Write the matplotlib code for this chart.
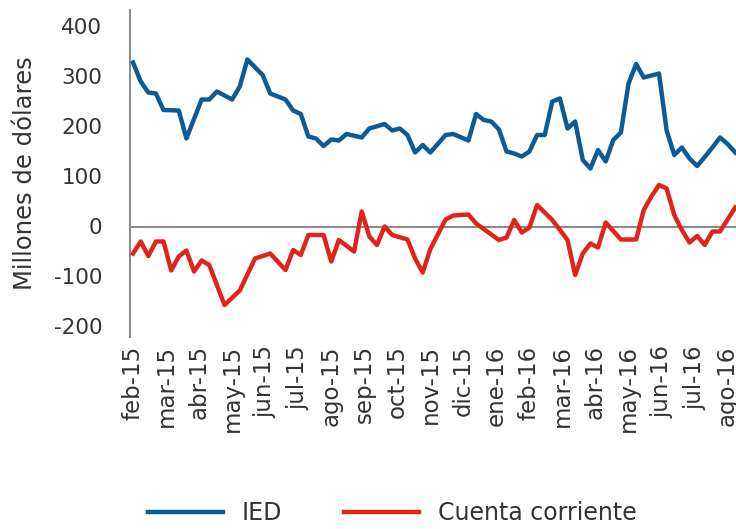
import numpy as np
import matplotlib.pyplot as plt

# weekly series, week 0 = first week of feb-15
ied_weeks = [0, 1, 2, 3, 4, 6, 7, 9, 10, 11, 13, 14, 15, 17, 18, 20, 21, 22, 23, 24,
             25, 26, 27, 28, 30, 31, 33, 34, 35, 36, 37, 38, 39, 41, 42, 44, 45, 46, 47, 48,
             49, 50, 51, 52, 53, 54, 55, 56, 57, 58, 59, 60, 61, 62, 63, 64, 65, 66, 67, 69,
             70, 71, 72, 73, 74, 75, 76, 77, 78, 79]
ied_vals = [328, 290, 268, 266, 233, 232, 176, 254, 254, 270, 254, 280, 334, 303, 266, 254, 232, 225, 180, 176,
            161, 174, 172, 185, 178, 196, 205, 192, 196, 183, 148, 163, 148, 183, 185, 172, 225, 213, 210, 194,
            150, 146, 140, 150, 183, 183, 250, 256, 196, 210, 133, 116, 153, 130, 173, 188, 286, 325, 298, 306,
            192, 143, 158, 136, 121, 139, 158, 178, 165, 148]

cc_weeks = [0, 1, 2, 3, 4, 5, 6, 7, 8, 9, 10, 11, 12, 14, 16, 18, 20, 21, 22, 23,
            25, 26, 27, 29, 30, 31, 32, 33, 34, 36, 37, 38, 39, 41, 42, 44, 45, 48, 49, 50,
            51, 52, 53, 55, 56, 57, 58, 59, 60, 61, 62, 64, 66, 67, 68, 69, 70, 71, 72, 73,
            74, 75, 76, 77, 79]
cc_vals = [-54, -30, -59, -30, -30, -88, -60, -48, -90, -68, -77, -117, -157, -128, -64, -54, -87, -47, -57, -17,
           -17, -70, -27, -50, 30, -20, -37, 0, -17, -26, -64, -92, -45, 14, 22, 24, 6, -27, -22, 13,
           -12, -2, 43, 13, -7, -27, -97, -54, -34, -42, 8, -26, -26, 33, 60, 83, 76, 23, -7, -32,
           -19, -37, -10, -10, 38]

month_labels = ['feb-15', 'mar-15', 'abr-15', 'may-15', 'jun-15', 'jul-15', 'ago-15', 'sep-15',
                'oct-15', 'nov-15', 'dic-15', 'ene-16', 'feb-16', 'mar-16', 'abr-16', 'may-16',
                'jun-16', 'jul-16', 'ago-16']
y_ticks = [-200, -100, 0, 100, 200, 300, 400]

txt = '#333333'
fig = plt.figure(figsize=(7.36, 5.29), dpi=100)
ax = fig.add_axes([130/736, 192/529, 606/736, 327/529])

ax.axhline(0, color='#8c8c8c', linewidth=1.5, zorder=1)
ax.plot(ied_weeks, ied_vals, color='#0d5a98', linewidth=3.2, solid_joinstyle='round', label='IED', zorder=3)
ax.plot(cc_weeks, cc_vals, color='#e0241b', linewidth=3.2, solid_joinstyle='round', label='Cuenta corriente', zorder=3)

ax.set_xlim(-0.4, 79.1)
ax.set_ylim(-221, 433)
ax.set_yticks(y_ticks)
ax.set_yticklabels([str(v) for v in y_ticks], fontsize=15.5, color=txt)
ax.set_xticks(np.arange(len(month_labels)) * 52 / 12)
ax.set_xticklabels(month_labels, rotation=90, fontsize=16.5, color=txt)
ax.tick_params(axis='both', length=0)
ax.tick_params(axis='x', pad=6)
ax.tick_params(axis='y', pad=20)
ax.set_ylabel('Millones de dólares', fontsize=17.5, color=txt, labelpad=12)

for s in ['top', 'right', 'bottom']:
    ax.spines[s].set_visible(False)
ax.spines['left'].set_color('#8c8c8c')
ax.spines['left'].set_linewidth(1.5)

fig.legend(loc='center', bbox_to_anchor=(0.533, 0.03), ncol=2, frameon=False,
           fontsize=17, handlelength=3.2, handletextpad=0.8, columnspacing=2.6,
           labelcolor=txt)

plt.savefig('out.png', dpi=100)
